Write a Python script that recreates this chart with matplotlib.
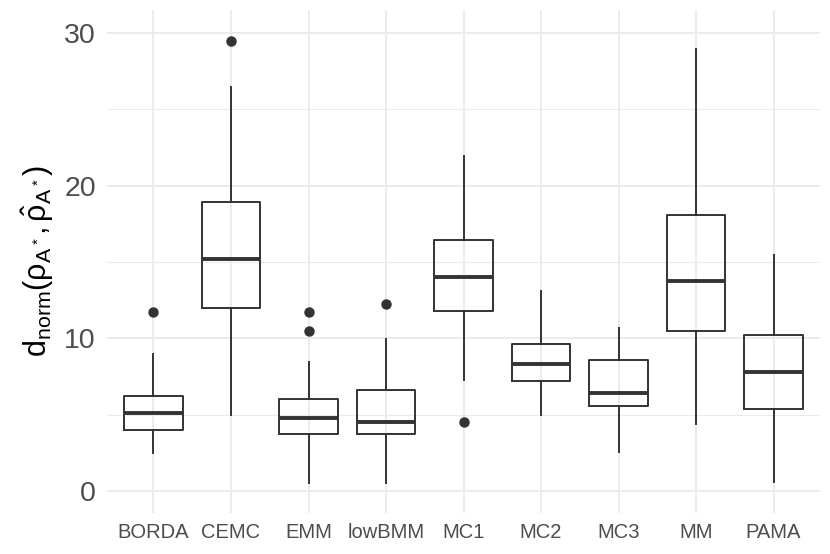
import matplotlib
matplotlib.use("Agg")
import matplotlib.pyplot as plt

# Five-number summaries + outliers per method
methods = ["BORDA", "CEMC", "EMM", "lowBMM", "MC1", "MC2", "MC3", "MM", "PAMA"]
whis_lo = [2.5, 5.0, 0.5, 0.5, 7.27, 5.0, 2.57, 4.37, 0.59]
q1 = [3.99, 11.98, 3.75, 3.75, 11.81, 7.22, 5.57, 10.48, 5.39]
median = [5.11, 15.17, 4.76, 4.5, 13.99, 8.34, 6.42, 13.75, 7.79]
q3 = [6.24, 18.91, 6.0, 6.61, 16.44, 9.6, 8.56, 18.07, 10.22]
whis_hi = [8.95, 26.44, 8.45, 9.95, 21.96, 13.12, 10.65, 28.95, 15.46]
outliers = [[11.72], [29.47], [11.72, 10.48], [12.22], [4.5], [], [], [], []]

plt.rcParams["font.family"] = ["Liberation Sans", "DejaVu Sans"]
plt.rcParams["mathtext.fontset"] = "custom"
plt.rcParams["mathtext.rm"] = "Liberation Sans"
plt.rcParams["mathtext.it"] = "Liberation Sans"
plt.rcParams["mathtext.bf"] = "Liberation Sans:bold"

line_col = "#333333"
grid_col = "#EBEBEB"
text_col = "#4D4D4D"

fig = plt.figure(figsize=(8.3, 5.54), dpi=100)
ax = fig.add_axes([0.1289, 0.074, 0.8591, 0.908])

stats = []
for i, name in enumerate(methods):
    stats.append({
        "label": name,
        "whislo": whis_lo[i],
        "q1": q1[i],
        "med": median[i],
        "q3": q3[i],
        "whishi": whis_hi[i],
        "fliers": outliers[i],
    })

positions = list(range(1, len(methods) + 1))
ax.bxp(
    stats,
    positions=positions,
    widths=0.75,
    showcaps=False,
    boxprops=dict(color=line_col, linewidth=1.4),
    whiskerprops=dict(color=line_col, linewidth=1.4),
    medianprops=dict(color=line_col, linewidth=2.8, solid_capstyle="butt"),
    flierprops=dict(marker="o", markerfacecolor=line_col, markeredgecolor=line_col,
                    markersize=6.5, linestyle="none"),
    zorder=3,
)

ax.set_xlim(0.4, 9.6)
ax.set_ylim(-1.44, 31.5)
ax.set_yticks([0, 10, 20, 30])
ax.set_yticks([5, 15, 25], minor=True)
ax.set_xticks(positions)
ax.set_xticklabels(methods)

ax.grid(True, which="major", color=grid_col, linewidth=1.4, zorder=0)
ax.grid(True, which="minor", axis="y", color=grid_col, linewidth=0.8, zorder=0)
ax.set_axisbelow(True)

for s in ax.spines.values():
    s.set_visible(False)
ax.tick_params(axis="both", which="both", length=0)
ax.tick_params(axis="x", labelsize=14.5, colors=text_col, pad=7)
ax.tick_params(axis="y", labelsize=20.5, colors=text_col, pad=8)

ax.set_ylabel(r"$\mathrm{d}_{\mathrm{norm}}(\rho_{A^*},\hat{\rho}_{A^*})$",
              fontsize=22, color="black", labelpad=6)

fig.savefig("out.png", dpi=100)
